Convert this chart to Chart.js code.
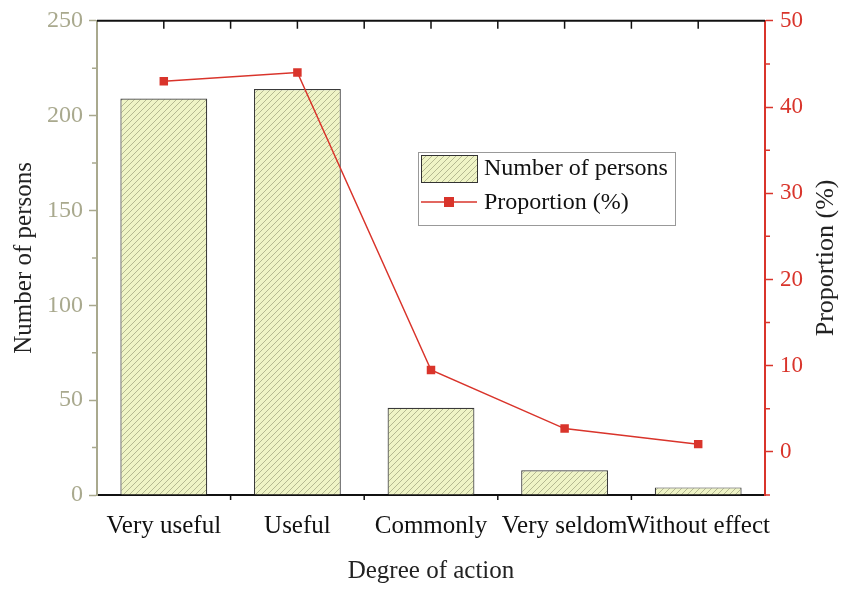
<!DOCTYPE html>
<html>
<head>
<meta charset="utf-8">
<script src="https://cdn.jsdelivr.net/npm/chart.js@4"></script>
<style>
  html, body { margin: 0; padding: 0; background: #fff; }
</style>
</head>
<body>
<canvas id="grafico" width="850" height="590"></canvas>
<script>
// dados
var categorias = ['Very useful', 'Useful', 'Commonly', 'Very seldom', 'Without effect'];
var pessoas = [209, 214, 46, 13, 4];
var proporcao = [43, 44, 9.5, 2.7, 0.9];
var ticksEsquerda = [0, 50, 100, 150, 200, 250];
var ticksDireita = [0, 10, 20, 30, 40, 50];

var corEsquerda = '#a9a98e';
var corDireita = '#d9342b';
var fonte = 'Liberation Serif';

// hachura das barras
function hachura(){
  var c = document.createElement('canvas');
  c.width = 6; c.height = 6;
  var ctx = c.getContext('2d');
  ctx.fillStyle = '#eff4c6';
  ctx.fillRect(0, 0, 6, 6);
  ctx.strokeStyle = '#a6a985';
  ctx.lineWidth = 0.8;
  ctx.beginPath();
  ctx.moveTo(-1, 7); ctx.lineTo(7, -1);
  ctx.moveTo(-4, 4); ctx.lineTo(4, -4);
  ctx.moveTo(2, 10); ctx.lineTo(10, 2);
  ctx.stroke();
  return ctx.createPattern(c, 'repeat');
}
var padrao = hachura();

// moldura, ticks menores, titulo da direita e legenda
var extras = {
  id: 'extras',
  afterDraw: function(chart){
    var ctx = chart.ctx;
    var a = chart.chartArea;
    var x = chart.scales.x;
    var y = chart.scales.y;
    var y1 = chart.scales.y1;
    ctx.save();
    // topo
    ctx.strokeStyle = '#111';
    ctx.lineWidth = 2;
    ctx.beginPath();
    ctx.moveTo(a.left, a.top); ctx.lineTo(a.right, a.top);
    ctx.stroke();
    ctx.lineWidth = 1.5;
    ctx.beginPath();
    for (var i = 0; i < categorias.length; i++){
      var px = x.getPixelForValue(i);
      ctx.moveTo(px, a.top); ctx.lineTo(px, a.top + 8);
      var b = px + (x.getPixelForValue(1) - x.getPixelForValue(0)) / 2;
      if (i < categorias.length - 1){
        ctx.moveTo(b, a.top); ctx.lineTo(b, a.top + 8);
        ctx.moveTo(b, a.bottom); ctx.lineTo(b, a.bottom + 5);
      }
    }
    ctx.stroke();
    // ticks menores esquerda
    ctx.strokeStyle = corEsquerda;
    ctx.beginPath();
    for (var v = 25; v < 250; v += 50){
      var py = y.getPixelForValue(v);
      ctx.moveTo(a.left - 5, py); ctx.lineTo(a.left, py);
    }
    ctx.stroke();
    // ticks menores direita
    ctx.strokeStyle = corDireita;
    ctx.beginPath();
    for (var w = -5; w < 50; w += 10){
      var qy = y1.getPixelForValue(w);
      ctx.moveTo(a.right, qy); ctx.lineTo(a.right + 5, qy);
    }
    ctx.stroke();
    // titulo do eixo direito (de baixo para cima)
    ctx.translate(826, (a.top + a.bottom) / 2);
    ctx.rotate(-Math.PI / 2);
    ctx.fillStyle = '#222';
    ctx.font = '26px "' + fonte + '"';
    ctx.textAlign = 'center';
    ctx.textBaseline = 'middle';
    ctx.fillText('Proportion (%)', 0, 0);
    ctx.restore();

    // legenda
    ctx.save();
    var lx = 418, ly = 152;
    ctx.fillStyle = '#fff';
    ctx.fillRect(lx, ly, 257, 73);
    ctx.strokeStyle = '#999';
    ctx.lineWidth = 1;
    ctx.strokeRect(lx + 0.5, ly + 0.5, 257, 73);
    ctx.fillStyle = padrao;
    ctx.fillRect(lx + 3, ly + 3, 56, 27);
    ctx.strokeStyle = '#333';
    ctx.strokeRect(lx + 3.5, ly + 3.5, 56, 27);
    ctx.strokeStyle = corDireita;
    ctx.lineWidth = 1.5;
    ctx.beginPath();
    ctx.moveTo(lx + 3, ly + 50); ctx.lineTo(lx + 59, ly + 50);
    ctx.stroke();
    ctx.fillStyle = corDireita;
    ctx.fillRect(lx + 26, ly + 45, 10, 10);
    ctx.fillStyle = '#111';
    ctx.font = '24px "' + fonte + '"';
    ctx.textBaseline = 'middle';
    ctx.fillText('Number of persons', lx + 66, ly + 17);
    ctx.fillText('Proportion (%)', lx + 66, ly + 51);
    ctx.restore();
  }
};

new Chart(document.getElementById('grafico'), {
  type: 'bar',
  data: {
    labels: categorias,
    datasets: [{
      type: 'line',
      label: 'Proportion (%)',
      data: proporcao,
      yAxisID: 'y1',
      borderColor: corDireita,
      backgroundColor: corDireita,
      borderWidth: 1.5,
      pointStyle: 'rect',
      pointRadius: 6,
      pointBorderWidth: 0,
      order: 0
    }, {
      label: 'Number of persons',
      data: pessoas,
      yAxisID: 'y',
      backgroundColor: padrao,
      borderColor: '#3a3a3a',
      borderWidth: 1.2,
      categoryPercentage: 1,
      barPercentage: 0.65,
      order: 1
    }]
  },
  options: {
    responsive: false,
    animation: false,
    devicePixelRatio: 1,
    layout: { padding: { top: 20, left: 0, right: 0, bottom: 0 } },
    plugins: { legend: { display: false }, tooltip: { enabled: false } },
    scales: {
      x: {
        offset: true,
        grid: { display: false, drawTicks: true },
        border: { color: '#111', width: 2 },
        ticks: {
          color: '#111', autoSkip: false, maxRotation: 0, padding: 8,
          font: { family: fonte, size: 25 }
        },
        title: {
          display: true, text: 'Degree of action', color: '#222',
          font: { family: fonte, size: 25 }, padding: { top: 4 }
        },
        afterFit: function(s){ s.height = 95; }
      },
      y: {
        position: 'left',
        min: 0, max: 250,
        afterBuildTicks: function(s){ s.ticks = ticksEsquerda.map(function(v){ return { value: v }; }); },
        grid: { drawOnChartArea: false, tickLength: 8, tickColor: corEsquerda, tickWidth: 1.5 },
        border: { color: corEsquerda, width: 2 },
        ticks: { color: corEsquerda, padding: 6, font: { family: fonte, size: 24 } },
        title: {
          display: true, text: 'Number of persons', color: '#222',
          font: { family: fonte, size: 25 }, padding: { top: 9, bottom: 0 }
        },
        afterFit: function(s){ s.width = 97; }
      },
      y1: {
        position: 'right',
        min: -5, max: 50,
        afterBuildTicks: function(s){ s.ticks = ticksDireita.map(function(v){ return { value: v }; }); },
        grid: { drawOnChartArea: false, tickLength: 8, tickColor: corDireita, tickWidth: 1.5 },
        border: { color: corDireita, width: 2 },
        ticks: { color: corDireita, padding: 7, font: { family: fonte, size: 23 } },
        afterFit: function(s){ s.width = 85; }
      }
    }
  },
  plugins: [extras]
});
</script>
</body>
</html>
